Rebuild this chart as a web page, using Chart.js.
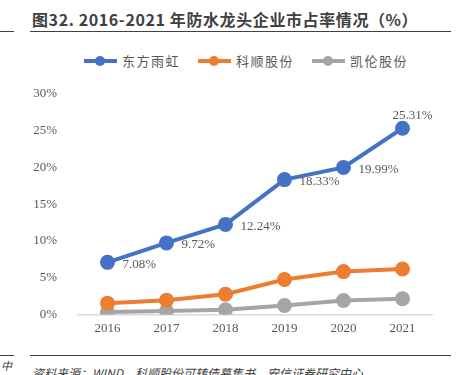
<!DOCTYPE html>
<html>
<head>
<meta charset="utf-8">
<script src="https://cdn.jsdelivr.net/npm/chart.js@4/dist/chart.umd.min.js"></script>
<style>
  body { margin: 0; width: 462px; height: 375px; overflow: hidden; background: #fff; position: relative; font-family: "Noto Sans CJK SC", sans-serif; }
  .title { position: absolute; left: 32px; top: 7px; font-size: 16px; font-weight: bold; color: #404040; letter-spacing: 0.6px; white-space: nowrap; }
  .rule { position: absolute; height: 0; border-top: 1.5px solid #404040; }
  .legend { position: absolute; top: 51px; left: 84px; display: flex; font-size: 13px; letter-spacing: 1.5px; color: #595959; }
  .legend .item { display: flex; align-items: center; margin-right: 18px; }
  .legend .mark { position: relative; width: 33px; height: 4px; margin-right: 5px; }
  .legend .mark i { position: absolute; left: 11px; top: -3px; width: 10px; height: 10px; border-radius: 50%; }
  #wrap { position: absolute; left: 0; top: 73px; width: 462px; height: 269px; }
  .side { position: absolute; left: 1px; top: 357px; font-size: 11px; font-style: italic; color: #404040; }
  .source { position: absolute; left: 32px; top: 364px; font-size: 12px; font-style: italic; color: #404040; white-space: nowrap; }
</style>
</head>
<body>
<div class="title">图32. 2016-2021 年防水龙头企业市占率情况（%）</div>
<div class="rule" style="left:0;width:14px;top:31px"></div>
<div class="rule" style="left:30px;width:421px;top:31px"></div>
<div class="legend" id="legend"></div>
<div id="wrap"><canvas id="chart"></canvas></div>
<div class="rule" style="left:0;width:14px;top:355px"></div>
<div class="rule" style="left:30px;width:421px;top:355px"></div>
<div class="side">中</div>
<div class="source">资料来源：WIND，科顺股份可转债募集书，安信证券研究中心</div>
<script>
const years = ["2016", "2017", "2018", "2019", "2020", "2021"];
const seriesNames = ["东方雨虹", "科顺股份", "凯伦股份"];
const dongfang = [7.08, 9.72, 12.24, 18.33, 19.99, 25.31];
const keshun = [1.53, 1.94, 2.75, 4.74, 5.82, 6.18];
const kailun = [0.31, 0.45, 0.64, 1.22, 1.89, 2.12];
const colors = ["#4472C4", "#ED7D31", "#A5A5A5"];

const legend = document.getElementById("legend");
seriesNames.forEach((name, i) => {
    const item = document.createElement("div");
    item.className = "item";
    item.innerHTML = '<span class="mark" style="background:' + colors[i] + '"><i style="background:' + colors[i] + '"></i></span>' + name;
    legend.appendChild(item);
});

// 数据标签（只给东方雨虹）
const labelPlugin = {
    id: "labels",
    afterDatasetsDraw(chart) {
        const ctx = chart.ctx;
        const meta = chart.getDatasetMeta(0);
        ctx.save();
        ctx.font = "13px 'Liberation Serif', serif";
        ctx.fillStyle = "#595959";
        ctx.textBaseline = "middle";
        meta.data.forEach((pt, i) => {
            const txt = dongfang[i].toFixed(2) + "%";
            if (i === meta.data.length - 1) {
                ctx.textAlign = "center";
                ctx.fillText(txt, pt.x + 10, pt.y - 13);
            } else {
                ctx.textAlign = "left";
                ctx.fillText(txt, pt.x + 15, pt.y + 2);
            }
        });
        ctx.restore();
    }
};

new Chart(document.getElementById("chart"), {
    type: "line",
    data: {
        labels: years,
        datasets: [dongfang, keshun, kailun].map((d, i) => ({
            label: seriesNames[i],
            data: d,
            borderColor: colors[i],
            backgroundColor: colors[i],
            borderWidth: 4,
            pointRadius: 5.5,
            pointHoverRadius: 5.5,
            tension: 0
        }))
    },
    options: {
        responsive: true,
        maintainAspectRatio: false,
        animation: false,
        layout: { padding: { top: 2, right: 30, bottom: 0, left: 0 } },
        plugins: {
            legend: { display: false },
            tooltip: { enabled: false }
        },
        scales: {
            x: {
                offset: true,
                grid: { display: false, drawTicks: false },
                border: { color: "#D9D9D9", width: 1.5 },
                ticks: { color: "#595959", font: { family: "'Liberation Serif', serif", size: 13 }, padding: 6 }
            },
            y: {
                min: 0,
                max: 30,
                afterFit(scale) { scale.width = 78; },
                grid: { display: false },
                border: { display: false },
                ticks: {
                    stepSize: 5,
                    padding: 13,
                    color: "#595959",
                    font: { family: "'Liberation Serif', serif", size: 13 },
                    callback: v => v + "%"
                }
            }
        }
    },
    plugins: [labelPlugin]
});
</script>
</body>
</html>
